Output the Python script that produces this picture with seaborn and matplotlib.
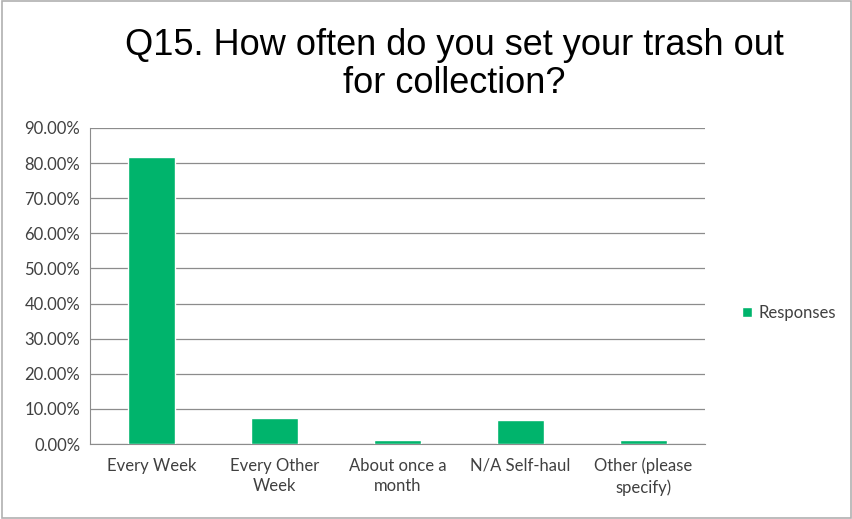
import pandas as pd
import matplotlib.pyplot as plt
import seaborn as sns
from matplotlib.ticker import FuncFormatter
from matplotlib.patches import Patch

# Data
categories = ['Every Week', 'Every Other\nWeek', 'About once a\nmonth', 'N/A Self-haul', 'Other (please\nspecify)']
responses = [81.8, 7.4, 1.1, 6.8, 1.1]

df = pd.DataFrame({'Category': categories, 'Responses': responses})

sns.set_style('white')
plt.rcParams['font.family'] = ['Lato', 'DejaVu Sans']

fig = plt.figure(figsize=(8.53, 5.19), dpi=100)
ax = fig.add_axes([0.1055, 0.1445, 0.721, 0.609])

green = '#00B46C'
sns.barplot(data=df, x='Category', y='Responses', color=green, width=0.39,
            saturation=1, ax=ax, zorder=3)

ax.set_ylim(0, 90)
ax.set_yticks(range(0, 91, 10))
ax.yaxis.set_major_formatter(FuncFormatter(lambda v, p: f'{v:.2f}%'))
ax.yaxis.grid(True, color='#8c8c8c', linewidth=0.9, zorder=0)
ax.set_axisbelow(True)
ax.set_xlabel('')
ax.set_ylabel('')
ax.tick_params(axis='both', labelsize=12, colors='#404040', length=0)
ax.tick_params(axis='y', pad=7)
ax.tick_params(axis='x', pad=10)
for lbl in ax.get_xticklabels():
    lbl.set_linespacing(1.35)
for s in ['top', 'right']:
    ax.spines[s].set_visible(False)
ax.spines['left'].set_color('#8c8c8c')
ax.spines['bottom'].set_color('#8c8c8c')

fig.text(0.533, 0.876, 'Q15. How often do you set your trash out\nfor collection?',
         ha='center', va='center', fontsize=26, family='Liberation Sans',
         linespacing=1.12, color='black')

leg = ax.legend(handles=[Patch(facecolor=green, label='Responses')],
                loc='center left', bbox_to_anchor=(1.035, 0.415), frameon=False,
                fontsize=12, handlelength=0.6, handleheight=0.6, handletextpad=0.4)
for t in leg.get_texts():
    t.set_color('#404040')

fig.patches.append(plt.Rectangle((0.002, 0.002), 0.996, 0.996, transform=fig.transFigure,
                                 fill=False, edgecolor='#b0b0b0', linewidth=1.2))

fig.savefig('out.png', dpi=100)
